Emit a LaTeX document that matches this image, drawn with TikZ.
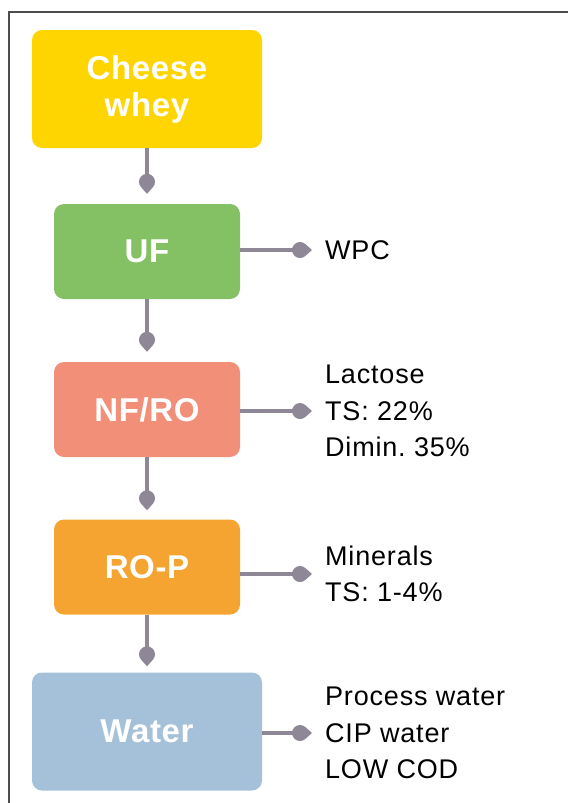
\documentclass[tikz,border=0pt]{standalone}
\usepackage{fontspec}
\setmainfont{Liberation Sans}
\newfontfamily\outfont[LetterSpace=3]{Liberation Sans}
\newfontfamily\boxfont[LetterSpace=2]{Liberation Sans}
\usetikzlibrary{calc}
\frenchspacing
\definecolor{cyellow}{HTML}{FED500}
\definecolor{cgreen}{HTML}{84C064}
\definecolor{csalmon}{HTML}{F28F79}
\definecolor{corange}{HTML}{F5A431}
\definecolor{cblue}{HTML}{A5C1D9}
\definecolor{conncol}{HTML}{8E8795}
\definecolor{framecol}{HTML}{4D4D4D}
\tikzset{
  proc/.style={rectangle, rounded corners=10pt, text=white, align=center, inner sep=0pt,
    font=\boxfont\fontsize{33}{37}\selectfont\bfseries},
  bigbox/.style={proc, minimum width=230pt, minimum height=118pt},
  smallbox/.style={proc, minimum width=186pt, minimum height=95pt},
  conn/.style={draw=conncol, line width=4.5pt},
  outtext/.style={anchor=west, align=left, inner sep=0pt, font=\outfont\fontsize{27}{36.5}\selectfont\frenchspacing},
  pin/.pic={\fill[conncol, x=1pt, y=1pt] (0,-12) -- (-42:8) arc[start angle=-42, end angle=222, radius=8] -- cycle;}
}
\begin{document}
\begin{tikzpicture}[x=1pt, y=-1pt]
\useasboundingbox (0,0) rectangle (568,803);
\draw[framecol, line width=2pt] (9,803) -- (9,12) -- (568,12);

\node[bigbox, fill=cyellow] (cw) at (147,89) {Cheese\\whey};
\node[smallbox, fill=cgreen] (uf) at (147,251.5) {UF};
\node[smallbox, fill=csalmon] (nf) at (147,409.5) {NF/RO};
\node[smallbox, fill=corange] (rop) at (147,567) {RO-P};
\node[bigbox, fill=cblue] (wat) at (147,731.5) {Water};

\node[outtext] (wpc) at (325,250) {WPC};
\node[outtext] (lac) at (325,411) {Lactose\\TS: 22\%\\Dimin. 35\%};
\node[outtext] (mnr) at (325,574) {Minerals\\TS: 1-4\%};
\node[outtext] (pw) at (325,733) {Process water\\CIP water\\LOW COD};

\draw[conn] (cw.south) -- ([yshift=22pt]uf.north) pic{pin};
\draw[conn] (uf.south) -- ([yshift=22pt]nf.north) pic{pin};
\draw[conn] (nf.south) -- ([yshift=21pt]rop.north) pic{pin};
\draw[conn] (rop.south) -- ([yshift=18pt]wat.north) pic{pin};

\draw[conn] (uf.east |- wpc.west) -- ([xshift=-25pt]wpc.west) pic[rotate=90]{pin};
\draw[conn] (nf.east |- lac.west) -- ([xshift=-25pt]lac.west) pic[rotate=90]{pin};
\draw[conn] (rop.east |- mnr.west) -- ([xshift=-25pt]mnr.west) pic[rotate=90]{pin};
\draw[conn] (wat.east |- pw.west) -- ([xshift=-25pt]pw.west) pic[rotate=90]{pin};
\end{tikzpicture}
\end{document}
